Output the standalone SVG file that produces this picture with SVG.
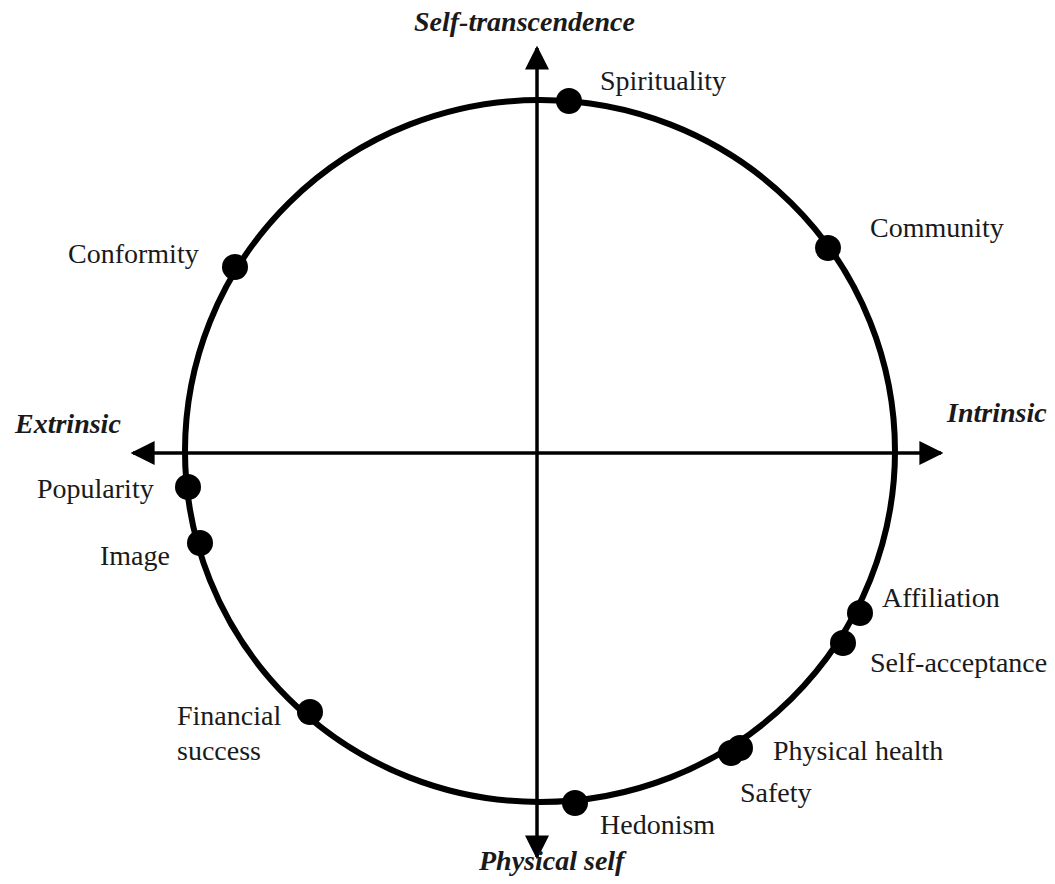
<svg xmlns="http://www.w3.org/2000/svg" width="1055" height="884" viewBox="0 0 1055 884">
<style>
.lbl{font-family:"Liberation Serif","Times New Roman",serif;font-size:28px;fill:#1a1a1a}
.ax{font-family:"Liberation Serif","Times New Roman",serif;font-size:28px;font-weight:bold;font-style:italic;fill:#1a1a1a}
.dot{fill:#000}
</style>
<defs>
<marker id="ah" viewBox="0 0 10 10" refX="9" refY="5" markerWidth="24" markerHeight="24" orient="auto" markerUnits="userSpaceOnUse">
<path d="M0,0 L10,5 L0,10 Z" fill="#000"/>
</marker>
</defs>
<rect width="1055" height="884" fill="#fff"/>
<g id="connectors" stroke="#000" fill="none">
<ellipse cx="540" cy="451" rx="355" ry="351" stroke-width="6"/>
<line x1="537" y1="453" x2="537" y2="48" stroke-width="3.5" marker-end="url(#ah)"/>
<line x1="537" y1="453" x2="537" y2="857" stroke-width="3.5" marker-end="url(#ah)"/>
<line x1="537" y1="453" x2="941" y2="453" stroke-width="3.5" marker-end="url(#ah)"/>
<line x1="537" y1="453" x2="133" y2="453" stroke-width="3.5" marker-end="url(#ah)"/>
</g>
<g id="axis-top"><text class="ax" x="414" y="31">Self-transcendence</text></g>
<g id="axis-bottom"><text class="ax" x="479" y="870">Physical self</text></g>
<g id="axis-left"><text class="ax" x="15" y="433">Extrinsic</text></g>
<g id="axis-right"><text class="ax" x="947" y="422">Intrinsic</text></g>
<g id="spirituality"><circle class="dot" cx="569" cy="101" r="13"/><text class="lbl" x="600" y="90">Spirituality</text></g>
<g id="community"><circle class="dot" cx="828" cy="248" r="13"/><text class="lbl" x="870" y="237">Community</text></g>
<g id="conformity"><circle class="dot" cx="235" cy="267" r="13"/><text class="lbl" x="68" y="263">Conformity</text></g>
<g id="popularity"><circle class="dot" cx="188" cy="487" r="13"/><text class="lbl" x="37" y="498">Popularity</text></g>
<g id="image"><circle class="dot" cx="200" cy="543" r="13"/><text class="lbl" x="100" y="565">Image</text></g>
<g id="affiliation"><circle class="dot" cx="860" cy="613" r="13"/><text class="lbl" x="882" y="607">Affiliation</text></g>
<g id="self-acceptance"><circle class="dot" cx="843" cy="643" r="13"/><text class="lbl" x="870" y="672">Self-acceptance</text></g>
<g id="physical-health"><circle class="dot" cx="740" cy="748" r="13"/><text class="lbl" x="773" y="760">Physical health</text></g>
<g id="safety"><circle class="dot" cx="731" cy="753" r="13"/><text class="lbl" x="740" y="802">Safety</text></g>
<g id="hedonism"><circle class="dot" cx="575" cy="803" r="13"/><text class="lbl" x="600" y="834">Hedonism</text></g>
<g id="financial-success"><circle class="dot" cx="310" cy="712" r="13"/><text class="lbl" x="177" y="725">Financial</text><text class="lbl" x="177" y="760">success</text></g>
</svg>
